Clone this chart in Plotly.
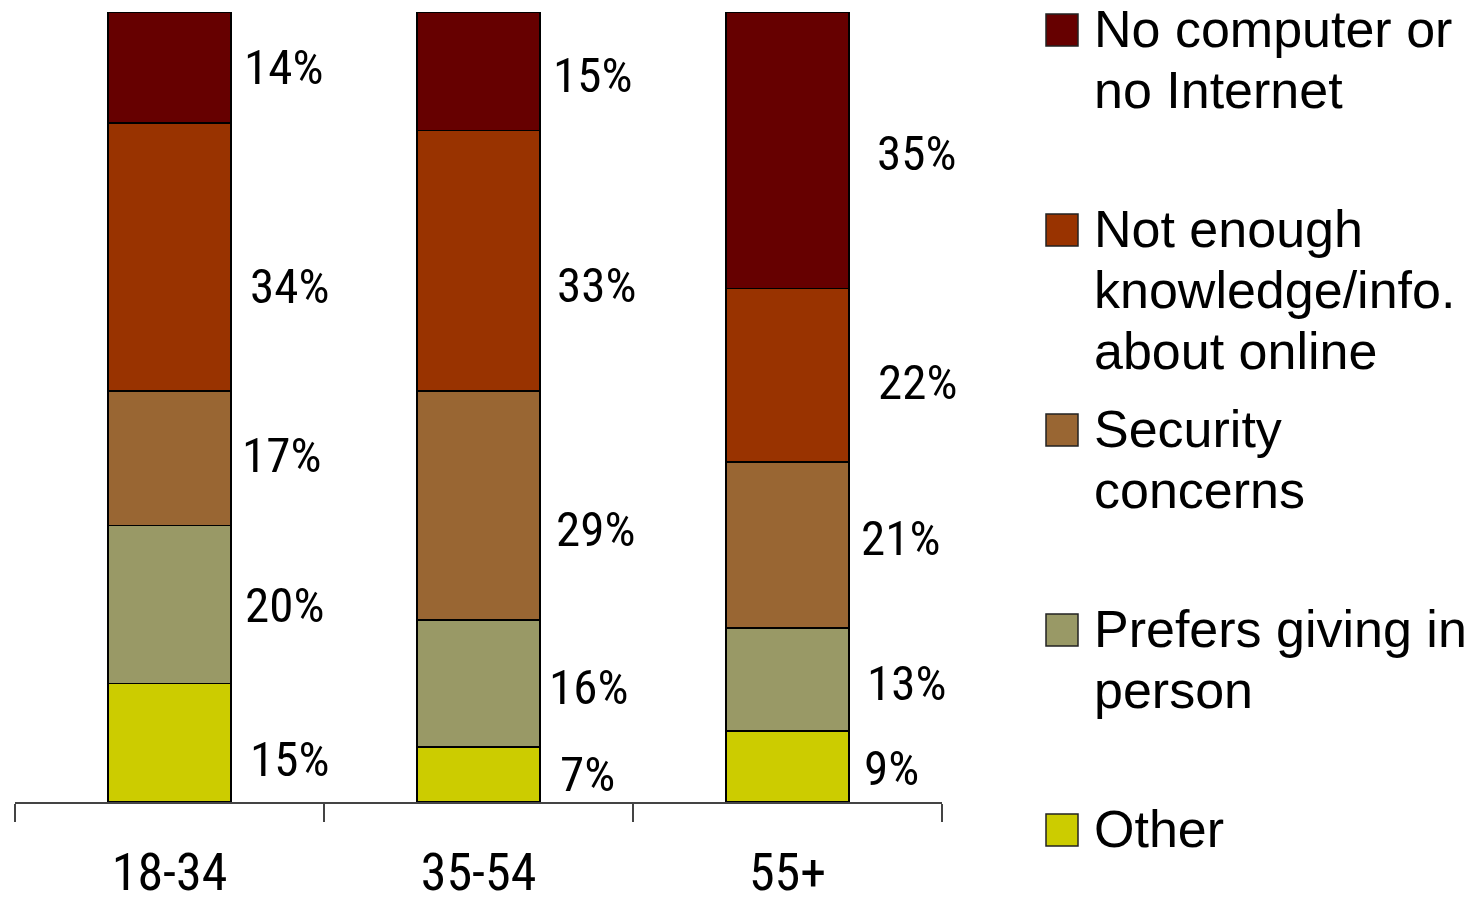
import plotly.graph_objects as go

# ---- data ----
categories = ["18-34", "35-54", "55+"]
series_names = ["Other", "Prefers giving in person", "Security concerns",
                "Not enough knowledge/info. about online", "No computer or no Internet"]
other = [15, 7, 9]
prefers = [20, 16, 13]
security = [17, 29, 21]
not_enough = [34, 33, 22]
no_computer = [14, 15, 35]
series_values = [other, prefers, security, not_enough, no_computer]
colors = ["#CCCC00", "#999966", "#996633", "#993300", "#660000"]
legend_lines = [["No computer or", "no Internet"],
                ["Not enough", "knowledge/info.", "about online"],
                ["Security", "concerns"],
                ["Prefers giving in", "person"],
                ["Other"]]

# label placement nudges in pixels (style only), [category][series]
label_dx = [[17, 12, 9, 17, 11], [18, 7, 14, 15, 11], [13, 16, 10, 27, 26]]
label_dy = [[17, 1, -3, 30, 0], [0, 4, 24, 25, 4], [2, 4, -7, 7, 3]]

# ---- layout geometry (pixels) ----
W, H = 1473, 904
L, R, T, B = 15, 531, 12, 102
plot_w = W - L - R
plot_h = H - T - B
BAR_W = 0.4
NARROW = "Roboto Condensed, Liberation Sans Narrow, DejaVu Sans Condensed, sans-serif"
WIDE = "Liberation Sans, Arial, sans-serif"


def px_x(px):
    return (px - L) / plot_w


def px_y(py):
    return (H - B - py) / plot_h


fig = go.Figure()
for name, vals, col in zip(series_names, series_values, colors):
    fig.add_trace(go.Bar(
        x=categories, y=vals, name=name, width=BAR_W,
        marker=dict(color=col, line=dict(color="black", width=1.8)),
        showlegend=False, hoverinfo="x+y+name",
    ))

# value labels to the right of each segment
annotations = []
for ci, cat in enumerate(categories):
    base = 0
    for si, vals in enumerate(series_values):
        v = vals[ci]
        annotations.append(dict(
            x=ci + BAR_W / 2, y=base + v / 2, xref="x", yref="y",
            text=f"{v}%", showarrow=False, xanchor="left", yanchor="middle",
            xshift=label_dx[ci][si], yshift=-label_dy[ci][si],
            font=dict(family=NARROW, size=49, color="black"),
        ))
        base += v

# manual legend
shapes = []
SQ_X0, SQ = 1046, 32
for k, lines in enumerate(legend_lines):
    top = 14 + 200 * k
    shapes.append(dict(
        type="rect", xref="paper", yref="paper",
        x0=px_x(SQ_X0), x1=px_x(SQ_X0 + SQ), y0=px_y(top + SQ), y1=px_y(top),
        fillcolor=colors[len(colors) - 1 - k], line=dict(color="#222222", width=1.5),
    ))
    for j, line in enumerate(lines):
        baseline = 47 + 200 * k + 61 * j
        annotations.append(dict(
            x=px_x(1092), y=px_y(baseline - 18), xref="paper", yref="paper",
            text=line, showarrow=False, xanchor="left", yanchor="middle",
            font=dict(family=WIDE, size=52, color="black"),
        ))

fig.update_layout(
    barmode="stack",
    width=W, height=H,
    margin=dict(l=L, r=R, t=T, b=B, pad=0, autoexpand=False),
    paper_bgcolor="white", plot_bgcolor="white",
    bargap=0.6,
    annotations=annotations, shapes=shapes,
    xaxis=dict(
        type="category", range=[-0.5, 2.5], showgrid=False, automargin=False,
        showline=True, linecolor="#444444", linewidth=1.5,
        ticks="outside", tickson="boundaries", ticklen=18, tickwidth=1.5,
        tickcolor="#444444",
        tickfont=dict(family=NARROW, size=52, color="black"),
        ticklabelstandoff=24,
    ),
    yaxis=dict(range=[0, 100], visible=False, showgrid=False, zeroline=False,
               automargin=False),
)

fig.write_html("out.html")
